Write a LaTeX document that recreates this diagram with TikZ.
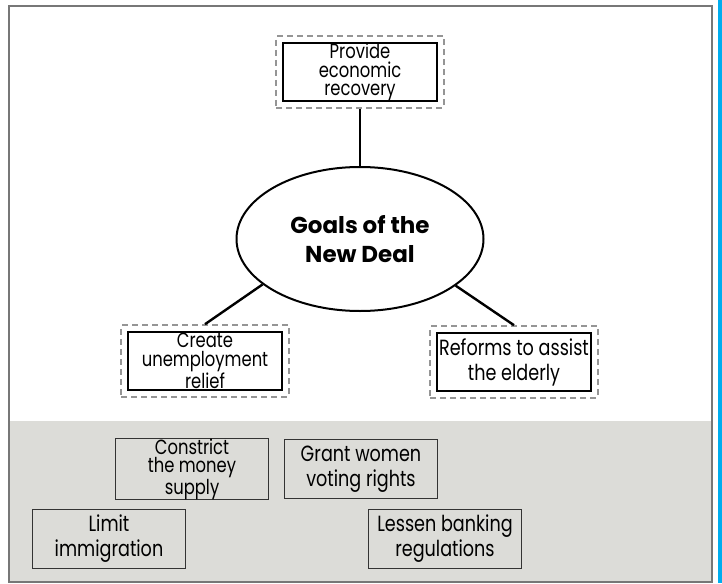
\documentclass[tikz,border=0pt]{standalone}
\usepackage{fontspec}
\setmainfont[FakeStretch=0.8]{Poppins}
\newfontfamily\goalsfont{Poppins}
\usetikzlibrary{shapes.geometric,fit}
\definecolor{framegray}{HTML}{777777}
\definecolor{dashgray}{HTML}{959595}
\definecolor{bandgray}{HTML}{DCDCD8}
\definecolor{edgeblue}{HTML}{00ADEF}
\begin{document}
\begin{tikzpicture}[x=1pt,y=-1pt,
    goal/.style={draw,line width=1.4pt,minimum width=154pt,minimum height=58pt,align=center,inner sep=0pt},
    goalframe/.style={draw=dashgray,line width=2.2pt,dash pattern=on 6pt off 4pt,inner sep=6pt},
    choice/.style={draw=black!80,line width=1.3pt,minimum width=153pt,minimum height=59pt,align=center,inner sep=0pt},
    tight/.style={font=\fontsize{20.5}{18.6}\selectfont},
    loose/.style={font=\fontsize{22}{25}\selectfont},
    link/.style={line width=2.4pt}]
      \useasboundingbox (0,0) rectangle (722,583);
      \fill[bandgray] (9,421) rectangle (712,582);
      \draw[framegray,line width=2pt] (9,6) rectangle (712,582);
      \fill[edgeblue] (718,0) rectangle (722,583);
      \node[ellipse,draw,line width=2pt,minimum width=247pt,minimum height=144pt,inner sep=0pt,
        font=\goalsfont\bfseries\fontsize{23}{29}\selectfont,align=center] (goals) at (360,239) {Goals of the\\New Deal};
      \draw
        (360,72) node[goal,tight] (recovery){Provide\\economic\\recovery}
        (205,361) node[goal,tight] (relief){Create\\unemployment\\relief}
        (514,362) node[goal,loose] (elderly){Reforms to assist\\the elderly};
      \node[goalframe,fit=(recovery)] (recovery-frame){};
      \node[goalframe,fit=(relief)] (relief-frame){};
      \node[goalframe,fit=(elderly)] (elderly-frame){};
      \draw
        (192,469) node[choice,tight] (money){Constrict\\the money\\supply}
        (361,469) node[choice,loose] (women){Grant women\\voting rights}
        (109,539) node[choice,loose] (immigration){Limit\\immigration}
        (445,539) node[choice,loose] (banking){Lessen banking\\regulations};
      \begin{scope}[link]
        \draw (recovery-frame.south) to (goals.north);
        \draw (relief-frame.north) to (goals.205);
        \draw (elderly-frame.north) to (goals.-26);
      \end{scope}
    \end{tikzpicture}
\end{document}
